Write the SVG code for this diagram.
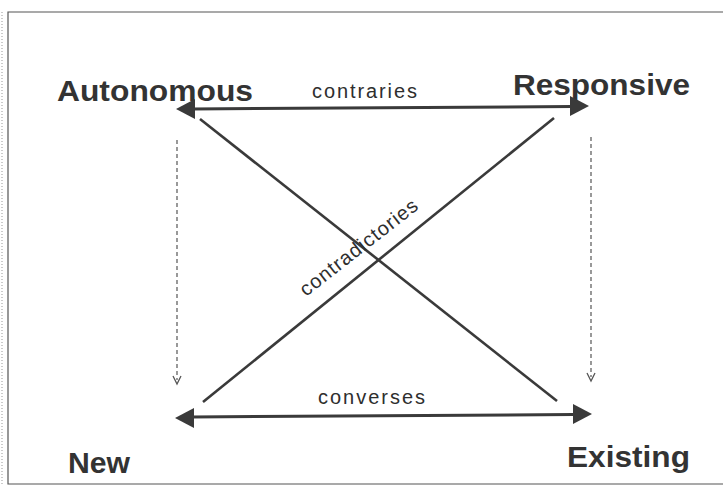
<svg xmlns="http://www.w3.org/2000/svg" width="723" height="501" viewBox="0 0 723 501">
<style>
.corner{font-family:"Liberation Sans",Arial,sans-serif;font-weight:bold;font-size:29px;fill:#333}
.lbl{font-family:"Liberation Sans",Arial,sans-serif;font-size:20px;fill:#2e2e2e}
.main{stroke:#3a3a3a;stroke-width:3;fill:none}
.diag{stroke:#3a3a3a;stroke-width:2.6;fill:none}
.dash{stroke:#555;stroke-width:1.2;stroke-dasharray:4 3;fill:none}
.head{fill:#3a3a3a}
.frame{stroke:#555;stroke-width:1.2;fill:none}
</style>
<rect width="723" height="501" fill="#fff"/>
<g id="frame">
<polyline class="frame" points="723,12 8,12 8,484 723,484"/>
<line x1="2" y1="12" x2="2" y2="484" stroke="#ccc" stroke-width="2" stroke-dasharray="1 2"/>
</g>
<g id="node-autonomous"><text class="corner" x="57" y="101" textLength="196" lengthAdjust="spacingAndGlyphs">Autonomous</text></g>
<g id="node-responsive"><text class="corner" x="513" y="95" textLength="177" lengthAdjust="spacingAndGlyphs">Responsive</text></g>
<g id="node-new"><text class="corner" x="68" y="473" textLength="62" lengthAdjust="spacingAndGlyphs">New</text></g>
<g id="node-existing"><text class="corner" x="567" y="467" textLength="123" lengthAdjust="spacingAndGlyphs">Existing</text></g>
<g id="connectors">
<line class="main" x1="192" y1="109" x2="572" y2="106.5"/>
<polygon class="head" points="176,109 195,99 195,119"/>
<polygon class="head" points="589,106 570,96 570,116"/>
<line class="main" x1="192" y1="417" x2="574" y2="414.5"/>
<polygon class="head" points="175,418 194,408 194,428"/>
<polygon class="head" points="592,414 573,404 573,424"/>
<line class="diag" x1="200" y1="119" x2="557" y2="401"/>
<line class="diag" x1="554" y1="118" x2="203" y2="402"/>
<line class="dash" x1="177" y1="140" x2="177" y2="380"/>
<polyline points="173,376 177,384 181,376" stroke="#555" stroke-width="1.3" fill="none"/>
<line class="dash" x1="591" y1="137" x2="591" y2="377"/>
<polyline points="587,373 591,381 595,373" stroke="#555" stroke-width="1.3" fill="none"/>
<text class="lbl" x="312" y="98" textLength="105" lengthAdjust="spacing">contraries</text>
<text class="lbl" x="318" y="404" textLength="107" lengthAdjust="spacing">converses</text>
<text class="lbl" transform="translate(306,297) rotate(-38)" x="0" y="0" textLength="144" lengthAdjust="spacing">contradictories</text>
</g>
</svg>
